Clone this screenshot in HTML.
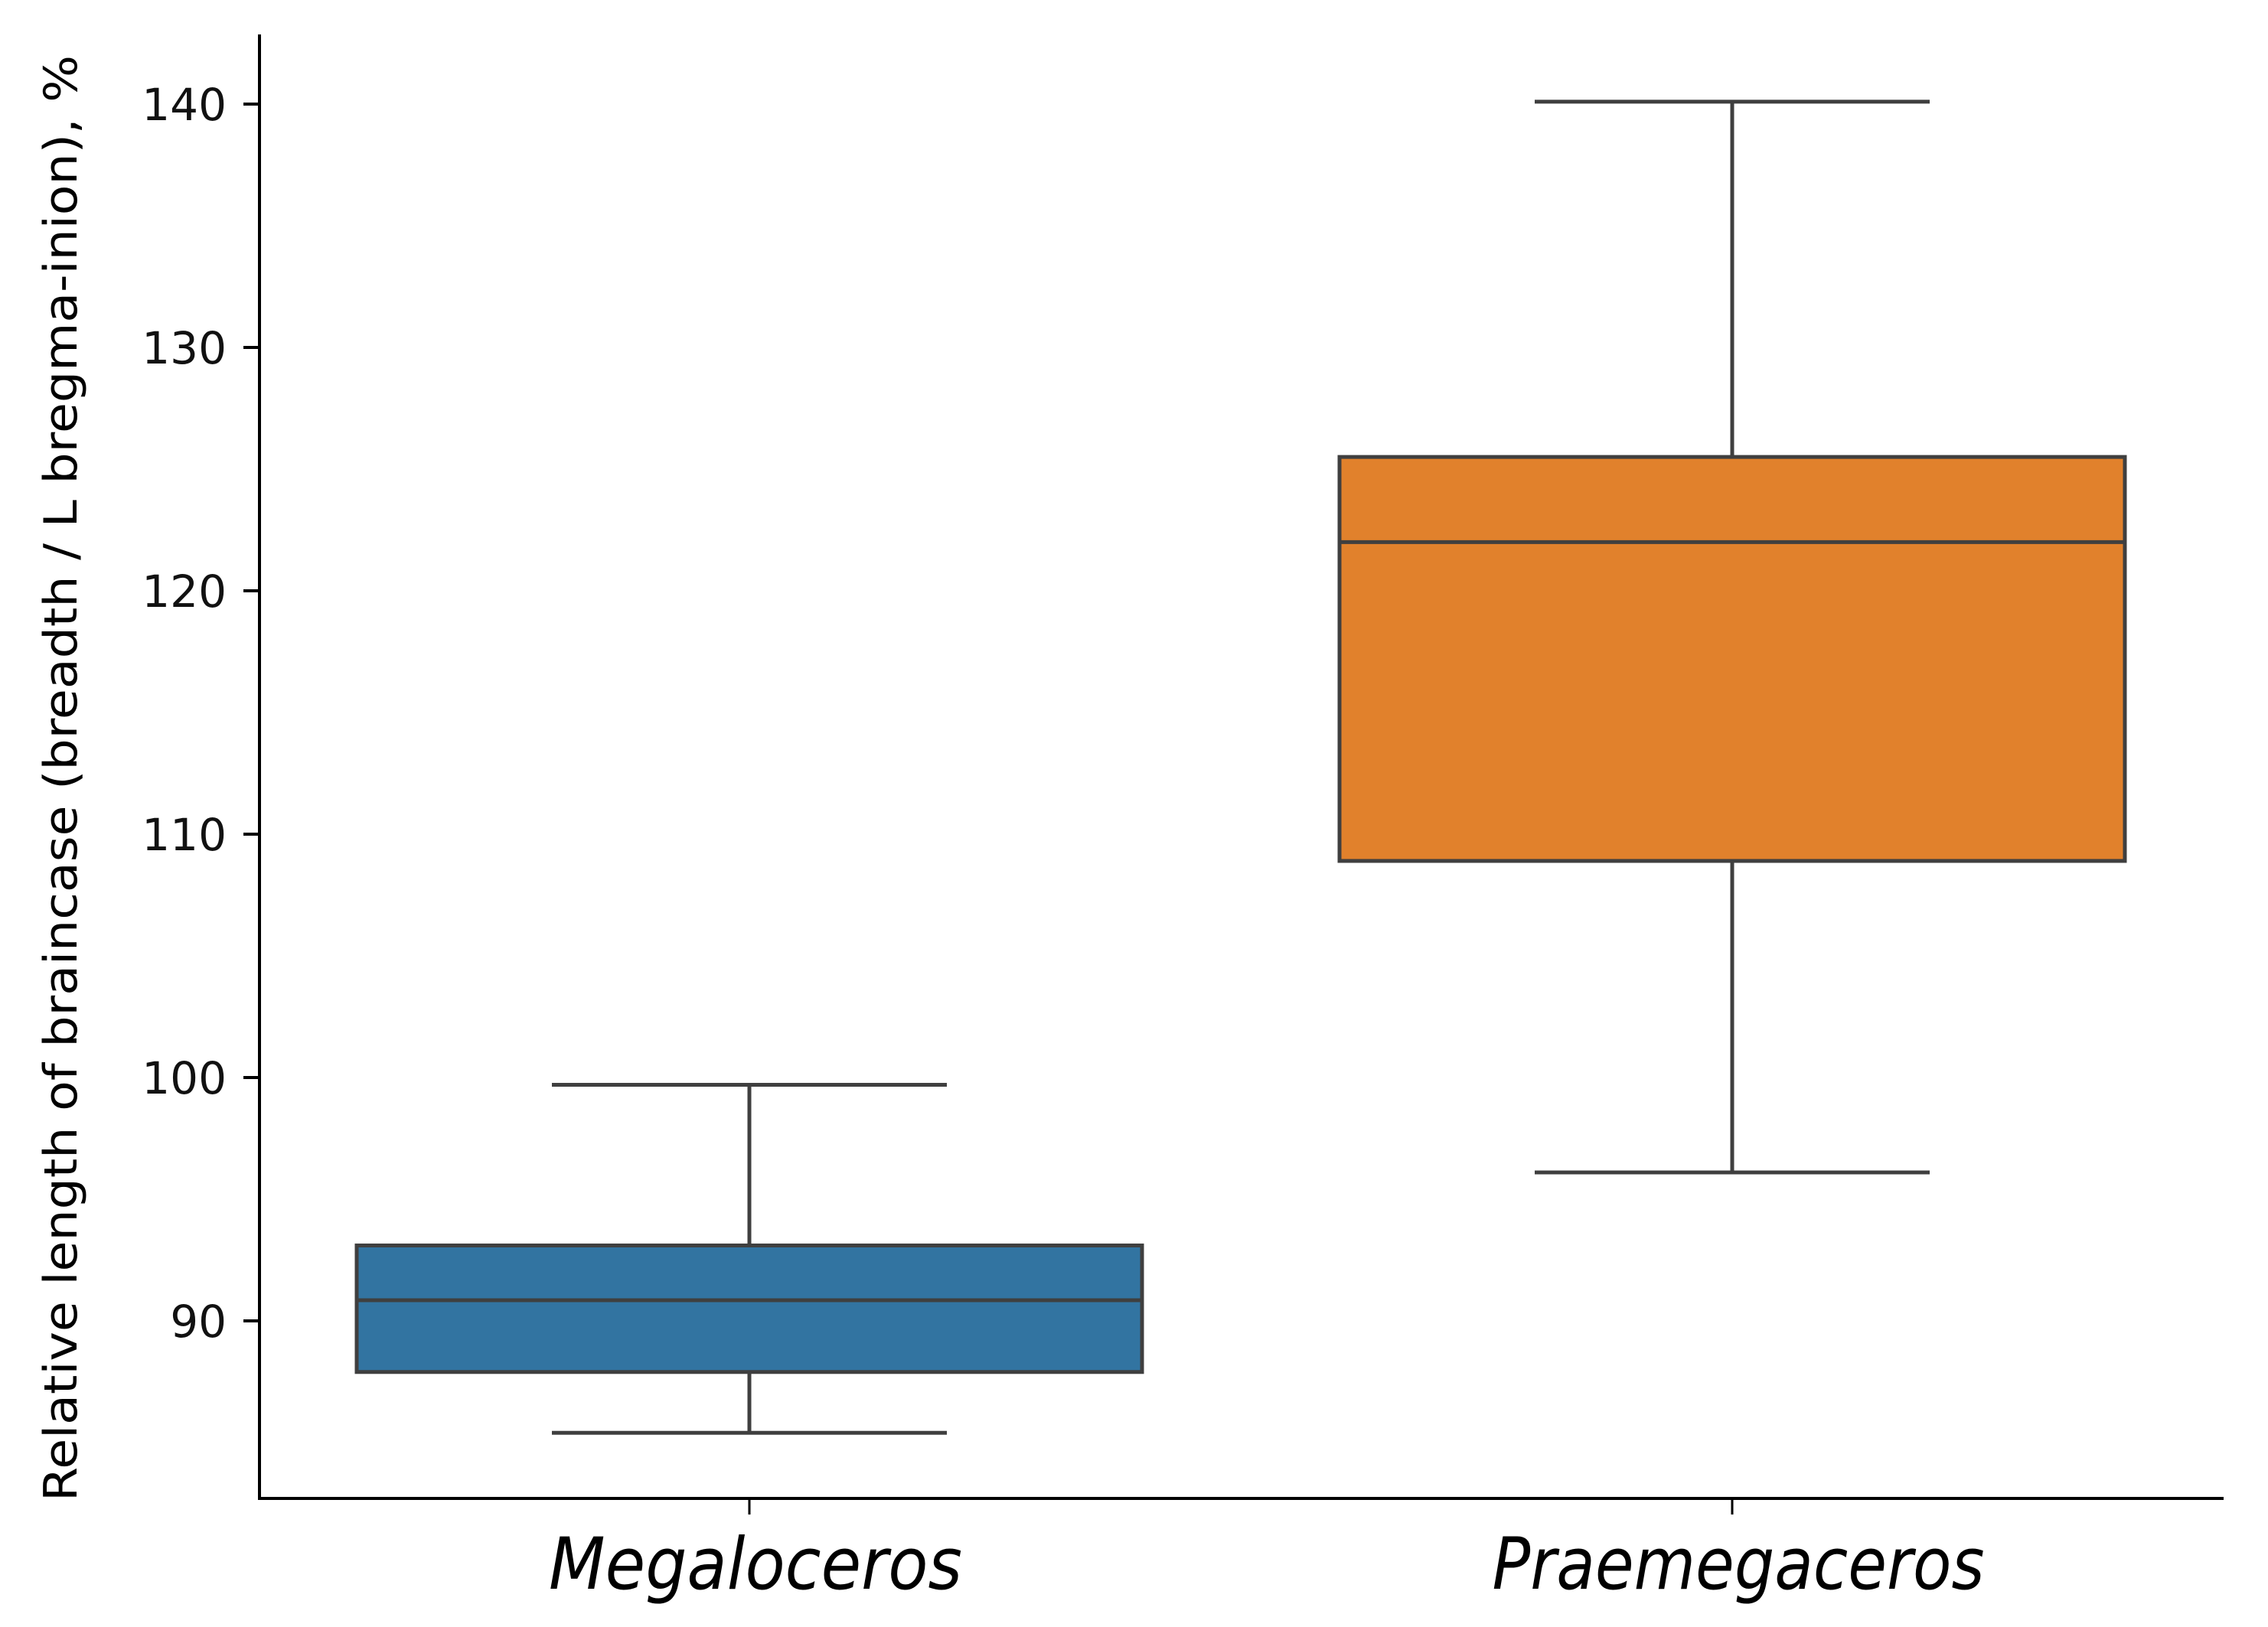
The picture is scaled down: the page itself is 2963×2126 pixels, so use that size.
<!DOCTYPE html>
<html><head><meta charset="utf-8"><style>
html,body{margin:0;padding:0;background:#fff;}
svg{display:block;}
</style></head><body>
<svg id="chart" width="2963" height="2126" viewBox="0 0 2963 2126" xmlns="http://www.w3.org/2000/svg">
<g id="plot"></g>
</svg>
<script>
const categories = ["Megaloceros", "Praemegaceros"];
const whiskerLow = [85.4, 96.1];
const q1Values = [87.9, 108.9];
const medians = [90.85, 122.0];
const q3Values = [93.1, 125.5];
const whiskerHigh = [99.7, 140.1];
const colors = ["#3274a1", "#e1812c"];
const yTicks = [90, 100, 110, 120, 130, 140];

const NS = "http://www.w3.org/2000/svg";
const g = document.getElementById('plot');
const yPix = v => 1726 - (v - 90) * 31.8;
const xPix = i => 979 + i * 1284;
const boxHalf = 513, capHalf = 258, lineCol = "#3f3f3f";

function mk(tag, attrs, parent) {
  const el = document.createElementNS(NS, tag);
  for (const k in attrs) el.setAttribute(k, attrs[k]);
  (parent || g).appendChild(el);
  return el;
}

// axes
let el = mk('line', {x1:339, y1:45, x2:339, y2:1960, stroke:'#000', 'stroke-width':4});


el = mk('line', {x1:337, y1:1958, x2:2905, y2:1958, stroke:'#000', 'stroke-width':4});



yTicks.forEach(t => {
  const y = yPix(t);
  let tk = mk('line', {x1:318, y1:y, x2:339, y2:y, stroke:'#000', 'stroke-width':4});
  
  
  let tx = mk('text', {x:296, y:y + 21, 'text-anchor':'end', 'font-size':58, 'font-family':'"DejaVu Sans", "Liberation Sans", sans-serif', fill:'#111'});
  tx.textContent = t;
  
  
});

categories.forEach((c, i) => {
  const x = xPix(i);
  let tk = mk('line', {x1:x, y1:1958, x2:x, y2:1979, stroke:'#000', 'stroke-width':3});
  
  
  const w = i === 0 ? 540 : 643;
  let tx = mk('text', {x:x + 8, y:2076, 'text-anchor':'middle', 'font-size':94, 'font-style':'italic', 'font-family':'"DejaVu Sans", "Liberation Sans", sans-serif', fill:'#000', textLength:w, lengthAdjust:'spacingAndGlyphs'});
  tx.textContent = c;
  
  

  const grp = mk('g', {});
  
  
  const yl = yPix(whiskerLow[i]), yq1 = yPix(q1Values[i]), ym = yPix(medians[i]), yq3 = yPix(q3Values[i]), yh = yPix(whiskerHigh[i]);
  let w1 = mk('line', {x1:x, y1:yh, x2:x, y2:yq3, stroke:lineCol, 'stroke-width':5}, grp);
  
  
  let w2 = mk('line', {x1:x, y1:yq1, x2:x, y2:yl, stroke:lineCol, 'stroke-width':5}, grp);
  
  
  let c1 = mk('line', {x1:x - capHalf, y1:yh, x2:x + capHalf, y2:yh, stroke:lineCol, 'stroke-width':5}, grp);
  
  
  let c2 = mk('line', {x1:x - capHalf, y1:yl, x2:x + capHalf, y2:yl, stroke:lineCol, 'stroke-width':5}, grp);
  
  
  let r = mk('rect', {x:x - boxHalf, y:yq3, width:boxHalf * 2, height:yq1 - yq3, fill:colors[i], stroke:lineCol, 'stroke-width':5}, grp);
  
  
  let m = mk('line', {x1:x - boxHalf, y1:ym, x2:x + boxHalf, y2:ym, stroke:lineCol, 'stroke-width':5}, grp);
  
  
});

let yt = mk('text', {x:0, y:0, transform:'translate(100,1017) rotate(-90)', 'text-anchor':'middle', 'font-size':60, 'font-family':'"DejaVu Sans", "Liberation Sans", sans-serif', fill:'#000', textLength:1890, lengthAdjust:'spacingAndGlyphs'});
yt.textContent = 'Relative length of braincase (breadth / L bregma-inion), %';


</script>
</body></html>
